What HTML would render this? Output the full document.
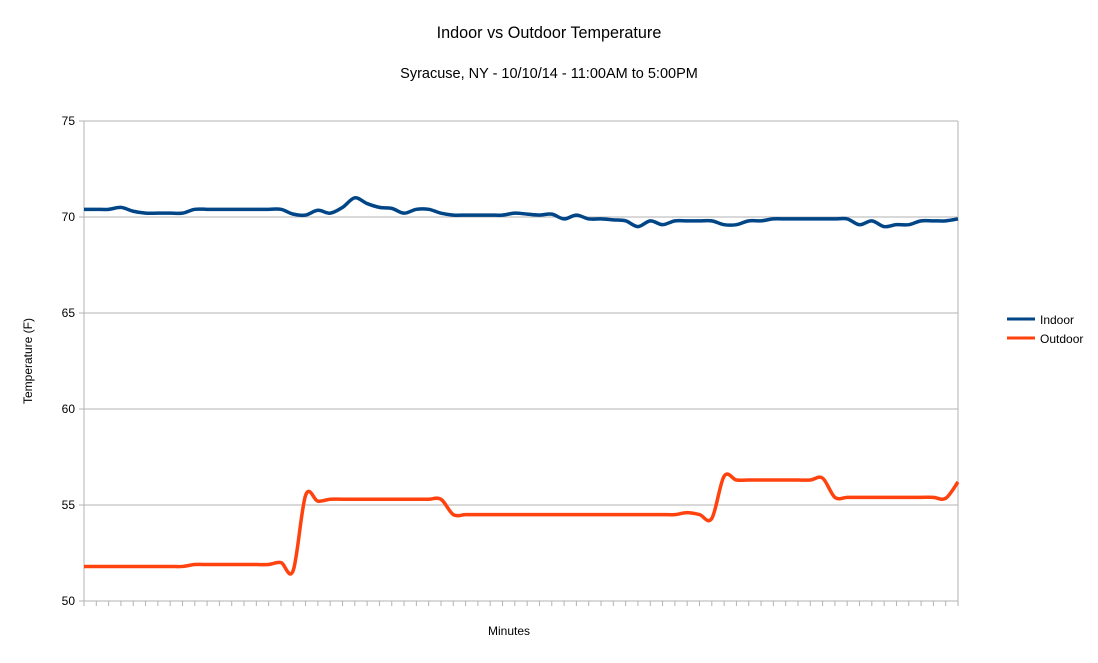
<!DOCTYPE html>
<html><head><meta charset="utf-8"><style>
body{margin:0;background:#fff;font-family:"Liberation Sans",sans-serif}
svg text{font-family:"Liberation Sans",sans-serif;fill:#000}
</style></head><body>
<svg id="chart" width="1098" height="658" viewBox="0 0 1098 658">
<text x="549" y="38" font-size="16.2" text-anchor="middle">Indoor vs Outdoor Temperature</text>
<text x="549" y="78" font-size="14.5" text-anchor="middle">Syracuse, NY - 10/10/14 - 11:00AM to 5:00PM</text>
<g id="grid"></g>
<g id="series"></g>
<text transform="translate(32,361) rotate(-90)" font-size="12" text-anchor="middle">Temperature (F)</text>
<text x="509" y="635" font-size="12" text-anchor="middle">Minutes</text>
<g>
<g><line x1="1007" y1="319" x2="1035" y2="319" stroke="#004586" stroke-width="3"/><text x="1040" y="324" font-size="12">Indoor</text></g>
<g><line x1="1007" y1="338" x2="1035" y2="338" stroke="#ff420e" stroke-width="3"/><text x="1040" y="343" font-size="12">Outdoor</text></g>
</g>
</svg>
<script>
const yTicks=[50,55,60,65,70,75];
const indoor=[70.4,70.4,70.4,70.5,70.3,70.2,70.2,70.2,70.2,70.4,70.4,70.4,70.4,70.4,70.4,70.4,70.4,70.15,70.1,70.35,70.2,70.5,71.0,70.7,70.5,70.45,70.2,70.4,70.4,70.2,70.1,70.1,70.1,70.1,70.1,70.2,70.15,70.1,70.15,69.9,70.1,69.9,69.9,69.85,69.8,69.5,69.8,69.6,69.8,69.8,69.8,69.8,69.6,69.6,69.8,69.8,69.9,69.9,69.9,69.9,69.9,69.9,69.9,69.6,69.8,69.5,69.6,69.6,69.8,69.8,69.8,69.9];
const outdoor=[51.8,51.8,51.8,51.8,51.8,51.8,51.8,51.8,51.8,51.9,51.9,51.9,51.9,51.9,51.9,51.9,52.0,51.6,55.5,55.2,55.3,55.3,55.3,55.3,55.3,55.3,55.3,55.3,55.3,55.3,54.5,54.5,54.5,54.5,54.5,54.5,54.5,54.5,54.5,54.5,54.5,54.5,54.5,54.5,54.5,54.5,54.5,54.5,54.5,54.6,54.5,54.3,56.5,56.3,56.3,56.3,56.3,56.3,56.3,56.3,56.4,55.4,55.4,55.4,55.4,55.4,55.4,55.4,55.4,55.4,55.35,56.2];
const L=84,R=958,T=121,B=601,ymin=50,ymax=75;
const n=indoor.length;
const X=i=>L+i*(R-L)/(n-1);
const Y=v=>B-(v-ymin)/(ymax-ymin)*(B-T);
const NS='http://www.w3.org/2000/svg';
const grid=document.getElementById('grid'),ser=document.getElementById('series');
function mk(tag,at,parent){const e=document.createElementNS(NS,tag);for(const k in at)e.setAttribute(k,at[k]);parent.appendChild(e);return e;}
yTicks.forEach(t=>{
 const g=mk('line',{x1:L-5,x2:R,y1:Y(t),y2:Y(t),stroke:'#b3b3b3','stroke-width':1},grid);
 
 
 const tx=mk('text',{x:L-9,y:Y(t)+4,'font-size':12,'text-anchor':'end'},grid);tx.textContent=t;
 
 
});
mk('line',{x1:L,x2:L,y1:T,y2:B,stroke:'#b3b3b3'},grid);
mk('line',{x1:R,x2:R,y1:T,y2:B,stroke:'#b3b3b3'},grid);
for(let i=0;i<n;i++){const t=mk('line',{x1:X(i),x2:X(i),y1:B,y2:B+5,stroke:'#b3b3b3'},grid);
 
 }
function path(d){const p=d.map((v,i)=>[X(i),Y(v)]);let s='M'+p[0][0]+','+p[0][1];
 for(let i=0;i<p.length-1;i++){const p0=p[Math.max(0,i-1)],p1=p[i],p2=p[i+1],p3=p[Math.min(p.length-1,i+2)];
  const c1=[p1[0]+(p2[0]-p0[0])/6,p1[1]+(p2[1]-p0[1])/6],c2=[p2[0]-(p3[0]-p1[0])/6,p2[1]-(p3[1]-p1[1])/6];
  s+=` C${c1[0]},${c1[1]} ${c2[0]},${c2[1]} ${p2[0]},${p2[1]}`;}return s;}
const a=mk('path',{d:path(indoor),fill:'none',stroke:'#004586','stroke-width':3.5,'stroke-linejoin':'round'},ser);


const b=mk('path',{d:path(outdoor),fill:'none',stroke:'#ff420e','stroke-width':3.5,'stroke-linejoin':'round'},ser);


</script>
</body></html>
